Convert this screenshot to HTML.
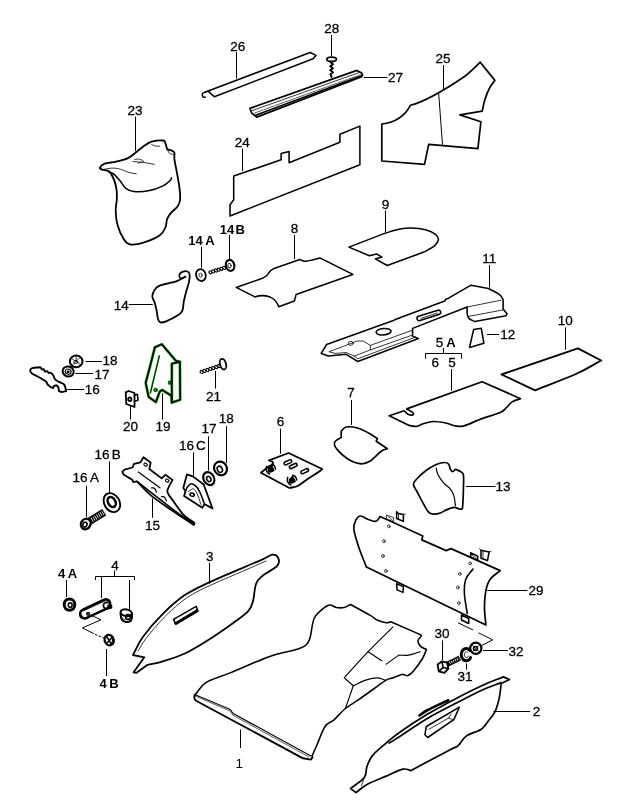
<!DOCTYPE html>
<html><head><meta charset="utf-8"><title>Parts diagram</title><style>
html,body{margin:0;padding:0;background:#fff;overflow:hidden}
svg{display:block;will-change:transform;opacity:0.999}
text{font-family:"Liberation Sans",sans-serif;font-size:13.5px;fill:#000;stroke:#000;stroke-width:0.3;text-anchor:middle}
.b{font-weight:bold;font-size:13px;stroke:none}
.p{fill:none;stroke:#000;stroke-width:1.55;stroke-linejoin:round;stroke-linecap:round}
.pw{fill:#fff;stroke:#000;stroke-width:1.55;stroke-linejoin:round;stroke-linecap:round}
.t{fill:none;stroke:#000;stroke-width:0.8;stroke-linejoin:round;stroke-linecap:round}
.tw{fill:#fff;stroke:#000;stroke-width:0.9;stroke-linejoin:round;stroke-linecap:round}
.k{fill:none;stroke:#000;stroke-width:1.8;stroke-linejoin:round;stroke-linecap:round}
.l{fill:none;stroke:#000;stroke-width:1}
.g{fill:none;stroke:#18b018;stroke-width:2.8;stroke-linejoin:round;stroke-linecap:round}
.f{fill:#000;stroke:none}
</style></head><body>
<svg width="617" height="802" viewBox="0 0 617 802">
<text x="135.0" y="114.5">23</text>
<path class="l" d="M135.5,116.5 L135.5,151.0"/>
<path class="k" d="M99.9,167.6C100.3,166.6 102.0,164.7 104.7,163.7C107.4,162.7 112.3,162.5 116.1,161.6C119.9,160.7 124.2,159.9 127.4,158.4C130.6,156.9 132.8,154.7 135.5,152.7C138.2,150.7 140.9,148.0 143.6,146.2C146.3,144.4 148.4,142.6 151.7,141.7C154.9,140.8 160.8,140.2 163.1,140.5C165.4,140.8 164.8,142.0 165.5,143.5C166.2,145.0 166.6,147.4 167.1,149.4C168.5,149.7 170.0,149.8 171.2,150.3C172.4,150.9 173.9,151.2 174.4,152.7C174.9,154.2 174.0,156.0 174.4,159.2C174.8,162.4 176.0,167.5 176.8,172.1C177.6,176.7 178.8,182.1 179.3,186.7C179.9,191.3 180.4,196.4 180.1,199.7C179.8,202.9 179.2,204.0 177.7,206.2C176.2,208.4 173.0,210.5 171.2,212.7C169.4,214.8 168.0,216.7 167.1,219.1C166.2,221.5 166.7,224.5 165.5,227.2C164.3,229.9 163.5,232.7 159.8,235.3C156.2,237.9 148.6,241.1 143.6,242.6C138.6,244.1 133.2,245.0 129.8,244.3C126.4,243.6 125.4,241.7 123.4,238.6C121.4,235.5 119.0,230.2 117.7,225.6C116.4,221.0 115.8,215.6 115.7,211.0C115.6,206.4 116.8,202.2 116.9,198.1C117.0,194.0 116.8,190.2 116.1,186.7C115.4,183.2 114.0,179.6 112.8,177.0C111.6,174.4 110.5,172.5 108.8,171.3C107.0,170.1 103.8,170.3 102.3,169.7C100.8,169.1 99.5,168.6 99.9,167.6Z"/>
<path class="p" d="M108.8,171.8C110.7,172.7 112.4,172.9 114.4,174.6C116.4,176.3 119.0,179.6 120.9,181.9C122.8,184.2 123.6,186.7 125.8,188.3C128.0,189.9 130.1,191.2 133.9,191.6C137.7,192.0 143.6,191.8 148.5,190.8C153.4,189.9 159.4,187.7 163.1,185.9C166.8,184.1 169.0,181.5 170.4,180.2C171.8,178.8 171.1,178.6 171.5,177.8"/>
<path class="t" d="M102.3,169.7C105.3,169.2 108.4,168.2 111.2,168.1C114.0,168.0 116.3,168.2 119.3,168.9C122.3,169.6 126.2,171.7 129.0,172.5C131.8,173.3 133.9,173.4 136.3,173.8"/>
<path class="t" d="M133.1,161.6C136.6,161.9 140.1,161.9 143.6,162.4C147.1,162.9 150.7,163.7 154.2,164.4"/>
<path class="t" d="M134.7,159.5C136.3,159.4 138.1,158.8 139.6,159.2C141.1,159.5 143.9,160.9 143.6,161.6C143.3,162.3 139.9,162.7 138.0,163.2"/>
<path class="t" d="M151.7,144.6C153.0,145.1 154.2,145.7 155.5,146.0C156.8,146.3 158.4,146.1 159.8,146.2"/>
<path class="t" d="M167.9,150.3C168.5,151.4 168.7,152.8 169.6,153.5C170.5,154.2 172.3,154.0 173.6,154.3"/>
<text x="237.7" y="50.5">26</text>
<path class="l" d="M236.5,52.0 L236.5,78.6"/>
<path class="p" d="M205.5,92.0L310.2,52.5L316.0,55.4L313.1,58.8L214.3,96.8L207.8,90.9"/>
<path class="p" d="M206.0,91.8C204.9,92.4 203.1,92.7 202.6,93.5C202.1,94.3 202.5,96.2 202.9,96.8C203.3,97.4 204.4,97.1 205.2,97.2"/>
<text x="395.6" y="81.9">27</text>
<path class="l" d="M363.7,77.5 L387.4,77.5"/>
<path class="k" d="M249.9,108.4 L356.9,70.4 L361.7,73 L362.7,75.3 L361.7,76.6 L256.7,117.1 L251.8,113.2 Z" style="stroke-width:1.7"/>
<path class="t" d="M252.2,110.6 L359,72.6"/>
<path class="t" d="M253.8,113.3 L361,74.6" style="stroke:#333;stroke-dasharray:10 1.2"/>
<path class="p" d="M255.6,115.2 L361.6,75.6" style="stroke-width:1.5"/>
<text x="331.7" y="32.5">28</text>
<path class="l" d="M331.5,35.0 L331.5,56.0"/>
<ellipse class="k" cx="331.6" cy="59.3" rx="4.8" ry="2.2" transform="rotate(0.0 331.6 59.3)"/>
<path class="k" d="M330.4,62 L333,64.3 L330.2,66.3 L333,68.3 L330.2,70.3 L333,72.3 L330.4,74.3 L331.6,77" style="stroke-width:1.9"/>
<text x="242.2" y="147.2">24</text>
<path class="l" d="M242.5,148.6 L242.5,171.0"/>
<path class="p" d="M233.7,176.0L281.1,159.8L281.1,153.6L289.1,151.6L289.1,162.8L339.9,142.3L339.9,134.3L359.9,126.1L359.9,164.8L230.0,216.0L230.0,204.7L233.7,199.7Z"/>
<text x="443.0" y="63.0">25</text>
<path class="l" d="M443.5,65.0 L443.5,90.0"/>
<path class="k" d="M381.8,124 Q402,121.5 410.4,105.3 C425,101.5 443,91.1 464.9,76.2 C470,72.5 476,66.5 480.2,62.2 L494.9,80.4 C488,88 484.5,98 482.2,111.1 L459.9,114.9 L480.9,121.8 L477.9,148.6 L428.7,144.3 L424.5,164.3 L381.8,161 Z" style="stroke-width:1.7"/>
<path class="l" d="M438.7,93.6 L442.5,144.8"/>
<text x="121.2" y="309.8">14</text>
<path class="l" d="M128.7,304.5 L152.8,304.5"/>
<path class="k" d="M152.3,296.2C152.3,294.0 153.5,291.5 154.7,289.7C155.9,287.9 157.2,286.7 159.6,285.6C162.0,284.5 166.3,284.0 169.3,283.2C172.3,282.4 174.7,281.9 177.4,280.8C180.1,279.7 182.8,278.1 185.5,276.7C183.9,277.2 181.7,278.6 180.7,278.3C179.7,278.0 179.1,276.2 179.4,275.1C179.7,274.0 181.0,272.5 182.3,271.9C183.7,271.3 186.3,271.1 187.5,271.5C188.7,271.9 189.3,272.6 189.6,274.3C189.9,276.0 189.6,278.8 189.1,281.6C188.6,284.4 187.2,288.1 186.3,291.3C185.4,294.5 184.6,297.8 183.9,301.0C183.2,304.2 183.4,308.4 182.3,310.8C181.2,313.2 180.1,313.9 177.4,315.6C174.7,317.4 168.9,320.2 166.1,321.3C163.3,322.4 161.8,322.8 160.4,322.4C159.1,322.0 158.6,320.8 158.0,318.9C157.4,317.0 157.2,313.5 156.7,310.8C156.1,308.1 155.4,305.1 154.7,302.7C154.0,300.3 152.3,298.4 152.3,296.2Z"/>
<text x="195.5" y="244.8" class="b">14</text>
<text x="210.0" y="244.8" class="b">A</text>
<path class="l" d="M201.5,246.5 L201.5,267.8"/>
<ellipse class="k" cx="200.9" cy="275.1" rx="4.8" ry="6.0" transform="rotate(-15.0 200.9 275.1)"/>
<ellipse class="t" cx="200.5" cy="275.1" rx="1.6" ry="2.0" transform="rotate(0.0 200.5 275.1)"/>
<text x="227.0" y="233.8" class="b">14</text>
<text x="240.3" y="233.8" class="b">B</text>
<path class="l" d="M229.5,235.0 L229.5,259.0"/>
<ellipse class="k" cx="230.1" cy="265.4" rx="4.2" ry="5.5" transform="rotate(-15.0 230.1 265.4)" style="stroke-width:2.2"/>
<ellipse class="t" cx="229.5" cy="265.6" rx="1.6" ry="2.4" transform="rotate(-15.0 229.5 265.6)"/>
<ellipse class="p" cx="224.1" cy="267.9" rx="1.7" ry="1.3" transform="rotate(222.5 224.1 267.9)" style="stroke-width:1.1"/>
<ellipse class="p" cx="221.4" cy="268.8" rx="1.7" ry="1.3" transform="rotate(222.5 221.4 268.8)" style="stroke-width:1.1"/>
<ellipse class="p" cx="218.6" cy="269.7" rx="1.7" ry="1.3" transform="rotate(222.5 218.6 269.7)" style="stroke-width:1.1"/>
<ellipse class="p" cx="215.9" cy="270.5" rx="1.7" ry="1.3" transform="rotate(222.5 215.9 270.5)" style="stroke-width:1.1"/>
<ellipse class="p" cx="213.1" cy="271.4" rx="1.7" ry="1.3" transform="rotate(222.5 213.1 271.4)" style="stroke-width:1.1"/>
<ellipse class="p" cx="210.4" cy="272.3" rx="1.7" ry="1.3" transform="rotate(222.5 210.4 272.3)" style="stroke-width:1.1"/>
<text x="294.4" y="232.6">8</text>
<path class="l" d="M294.5,235.0 L294.5,259.2"/>
<path class="p" d="M236.2,287.4 L259,279.5 Q267,277 269,272.5 Q270.5,270 274,268.5 L299.9,259.4 Q303,261.8 306.1,261.2 Q309,260.5 312.4,259.9 L319.9,257.9 L352.8,274.4 L296.1,294.4 L294.4,301.1 L278.7,306.8 Q276.2,299.5 269.9,296.9 Q262.4,294.3 254.9,296.9 Z"/>
<text x="385.6" y="208.6">9</text>
<path class="l" d="M385.5,210.5 L385.5,232.4"/>
<path class="p" d="M348.9,247.1L384.6,233.4C389.3,232.0 394.4,230.2 398.8,229.3C403.2,228.4 406.8,227.9 411.3,228.0C415.8,228.1 421.6,228.8 425.6,229.8C429.6,230.9 433.3,232.7 435.4,234.3C437.5,235.9 438.5,237.7 438.4,239.6C438.2,241.5 436.9,243.7 434.5,245.8C432.1,247.9 427.4,250.0 423.8,252.1L387.2,265.5L375.3,258.9L381.9,257.1L376.5,253.9L369.4,255.7L348.9,247.1Z"/>
<text x="489.3" y="263.1">11</text>
<path class="l" d="M489.5,265.0 L489.5,287.5"/>
<path class="p" d="M321.2,353.4L326.6,344.5L393.4,320.5L395.2,319.6L444.7,301.1L445.7,299.2L448.6,298.2L471.0,285.2L488.5,288.5C492.1,290.4 496.8,292.5 499.2,294.3C501.6,296.1 501.8,297.6 503.1,299.2L503.1,308.9L507.0,313.8L506.0,315.7L474.9,321.6C473.0,320.6 470.4,319.9 469.1,318.6C467.8,317.3 467.8,315.4 467.1,313.8L467.1,307.0L412.6,328.4L412.6,336.1L418.5,338.6L357.8,361.5L346.2,354.3L328.4,356.1L321.2,353.4Z"/>
<path class="t" d="M329.3,351.6L343.5,346.3L356.9,341.0L363.1,341.0L370.3,345.4L370.3,349.9L354.2,356.1L346.2,352.5L335.5,353.4Z"/>
<path class="t" d="M370.3,345.4L412.1,330.3"/>
<path class="t" d="M370.3,349.9L412.6,335.0"/>
<path class="t" d="M354.2,356.1L357.8,358.8L415.7,337.0"/>
<ellipse class="p" cx="383.6" cy="331.7" rx="7.5" ry="3.2" transform="rotate(-5.0 383.6 331.7)"/>
<ellipse class="t" cx="350.7" cy="343.3" rx="2.5" ry="2.0" transform="rotate(0.0 350.7 343.3)"/>
<path class="p" d="M418.5,316.3 L438,310.2 A2.2,2.2 0 0 1 439.5,314.3 L420,320.5 A2.2,2.2 0 0 1 418.5,316.3 Z"/>
<path class="t" d="M421,318.3 L437.5,313"/>
<path class="t" d="M467.1,307.0L501.2,300.2"/>
<path class="t" d="M468.0,316.5L503.1,309.9"/>
<text x="507.8" y="339.1">12</text>
<path class="l" d="M487.0,334.5 L499.2,334.5"/>
<path class="p" d="M473.6,329.6L481.3,328.3L483.9,343.3L469.5,347.5Z"/>
<text x="565.3" y="324.8">10</text>
<path class="l" d="M565.5,327.4 L565.5,349.7"/>
<path class="k" d="M501.5,374.5L577.9,348.4L601.2,360.5C593.1,364.8 588.0,368.5 577.0,373.5C566.0,378.5 549.0,384.7 535.0,390.3L501.5,374.5Z" style="stroke-width:1.9"/>
<text x="439.5" y="347.2">5</text>
<text x="451.0" y="347.2" class="b">A</text>
<path class="l" d="M443.5,348 V353.5 M425.5,358.7 V353.5 H461.5 V358.7"/>
<text x="435.3" y="366.9">6</text>
<text x="451.9" y="366.9">5</text>
<path class="l" d="M451.5,369.0 L451.5,390.7"/>
<path class="g" d="M161.8,344.2L154.9,347.2L149.6,368.1L145.7,382.7L148.6,396.8L155.9,402.1L159.8,391.4L162.2,390.0L171.5,395.8L171.8,402.6L180.2,399.7L179.9,361.8L175.9,360.8Z"/>
<path class="g" d="M171.8,402.6L171.8,363.7L179.9,361.8"/>
<path class="g" d="M159.3,355.9L150.4,392.9" style="stroke-width:1.8"/>
<ellipse class="g" cx="155.6" cy="390.0" rx="1.4" ry="1.4" transform="rotate(0.0 155.6 390.0)" style="stroke-width:1.9"/>
<ellipse class="g" cx="170.0" cy="382.7" rx="1.4" ry="1.4" transform="rotate(0.0 170.0 382.7)" style="stroke-width:1.9"/>
<path class="k" d="M161.8,344.2L154.9,347.2L149.6,368.1L145.7,382.7L148.6,396.8L155.9,402.1L159.8,391.4L162.2,390.0L171.5,395.8L171.8,402.6L180.2,399.7L179.9,361.8L175.9,360.8Z" style="stroke-width:1.6"/>
<path class="k" d="M171.8,402.6L171.8,363.7L179.9,361.8" style="stroke-width:1.6"/>
<path class="t" d="M159.3,355.9L150.4,392.9"/>
<ellipse class="t" cx="155.6" cy="390.0" rx="1.4" ry="1.4" transform="rotate(0.0 155.6 390.0)"/>
<ellipse class="t" cx="170.0" cy="382.7" rx="1.4" ry="1.4" transform="rotate(0.0 170.0 382.7)"/>
<text x="163.1" y="430.8">19</text>
<path class="l" d="M162.5,393.4 L162.5,419.6"/>
<text x="130.6" y="430.8">20</text>
<path class="l" d="M130.5,406.0 L130.5,419.6"/>
<path class="k" d="M125.7,392.4L128.6,391.0L134.5,393.0L134.5,407.0L126.3,404.0Z"/>
<ellipse class="k" cx="129.8" cy="399.2" rx="1.6" ry="1.8" transform="rotate(0.0 129.8 399.2)"/>
<path class="p" d="M134.5,395.3L137.4,394.3L138.0,400.2L134.5,401.5"/>
<text x="213.6" y="400.8">21</text>
<path class="l" d="M215.5,371.0 L215.5,388.5"/>
<ellipse class="k" cx="223.0" cy="364.2" rx="3.0" ry="5.4" transform="rotate(-15.0 223.0 364.2)"/>
<ellipse class="p" cx="219.1" cy="366.0" rx="1.7" ry="1.3" transform="rotate(221.2 219.1 366.0)" style="stroke-width:1.1"/>
<ellipse class="p" cx="216.2" cy="367.0" rx="1.7" ry="1.3" transform="rotate(221.2 216.2 367.0)" style="stroke-width:1.1"/>
<ellipse class="p" cx="213.2" cy="368.0" rx="1.7" ry="1.3" transform="rotate(221.2 213.2 368.0)" style="stroke-width:1.1"/>
<ellipse class="p" cx="210.3" cy="368.9" rx="1.7" ry="1.3" transform="rotate(221.2 210.3 368.9)" style="stroke-width:1.1"/>
<ellipse class="p" cx="207.4" cy="369.9" rx="1.7" ry="1.3" transform="rotate(221.2 207.4 369.9)" style="stroke-width:1.1"/>
<ellipse class="p" cx="204.5" cy="370.9" rx="1.7" ry="1.3" transform="rotate(221.2 204.5 370.9)" style="stroke-width:1.1"/>
<ellipse class="p" cx="201.6" cy="371.9" rx="1.7" ry="1.3" transform="rotate(221.2 201.6 371.9)" style="stroke-width:1.1"/>
<text x="110.0" y="364.6">18</text>
<path class="l" d="M85.6,361.5 L102.0,361.5"/>
<text x="102.0" y="378.8">17</text>
<path class="l" d="M75.3,373.5 L93.1,373.5"/>
<text x="92.2" y="394.1">16</text>
<path class="l" d="M67.2,389.5 L84.2,389.5"/>
<ellipse class="k" cx="76.2" cy="361.4" rx="6.3" ry="5.8" transform="rotate(0.0 76.2 361.4)" style="stroke-width:2"/>
<path class="t" d="M71.5,358.5 L80.5,364.5 M80,357.5 L72.5,365 M76.2,356 V361.5"/>
<ellipse class="t" cx="75.8" cy="362.0" rx="2.0" ry="1.6" transform="rotate(0.0 75.8 362.0)"/>
<ellipse class="pw" cx="68.2" cy="371.5" rx="5.6" ry="5.0" transform="rotate(20.0 68.2 371.5)" style="stroke-width:2"/>
<ellipse class="p" cx="68.2" cy="371.7" rx="3.0" ry="2.5" transform="rotate(20.0 68.2 371.7)" style="stroke-width:1.1"/>
<ellipse class="f" cx="68.2" cy="371.9" rx="1.5" ry="1.3" transform="rotate(0.0 68.2 371.9)"/>
<path class="k" d="M30.2,370.1C30.4,369.5 30.5,368.6 32.2,368.1C33.9,367.6 37.7,367.5 40.4,367.2L41.9,369.6L43.8,369.1L44.8,371.5L47.2,371.1L48.7,373.0C49.5,373.0 50.3,372.5 51.1,373.0C51.9,373.5 53.0,374.8 53.6,375.9C54.2,376.9 54.1,378.3 55.0,379.3C55.9,380.3 57.4,381.0 58.9,381.8C60.4,382.6 62.8,383.3 63.8,384.2C64.8,385.1 64.8,386.0 65.2,387.1C65.6,388.2 65.9,389.7 66.2,391.0C64.7,391.3 63.0,392.0 61.8,392.0C60.6,392.0 59.9,391.3 58.9,391.0C58.7,389.9 58.8,388.6 58.4,387.6C58.0,386.6 57.1,386.0 56.5,385.2C55.7,385.5 54.6,385.6 54.0,386.1C53.4,386.6 53.4,387.4 53.1,388.1C52.1,387.6 51.1,387.2 50.2,386.6C49.3,386.0 48.4,385.5 47.7,384.7C47.1,383.9 47.2,382.7 46.3,381.8C45.4,380.9 44.0,380.3 42.4,379.3C40.8,378.3 38.1,376.8 36.5,375.9C34.9,375.0 33.6,374.6 32.6,374.0C31.6,373.4 31.1,372.6 30.7,372.0C30.3,371.4 29.9,370.8 30.2,370.1Z" style="stroke-width:1.9"/>
<text x="102.0" y="458.8">16</text>
<text x="116.3" y="458.8">B</text>
<path class="l" d="M109.5,461.4 L109.5,493.5"/>
<text x="80.0" y="482.3">16</text>
<text x="94.5" y="482.3">A</text>
<path class="l" d="M86.5,485.7 L86.5,516.8"/>
<ellipse class="k" cx="111.9" cy="502.6" rx="7.6" ry="10.0" transform="rotate(-30.0 111.9 502.6)" style="stroke-width:1.9"/>
<ellipse class="k" cx="111.7" cy="502.0" rx="3.6" ry="5.4" transform="rotate(-30.0 111.7 502.0)" style="stroke-width:2.5"/>
<path class="t" d="M106.5,509 Q110,513.5 115.5,511.5"/>
<path class="p" d="M89.5,521.3 L104.2,512.2" style="stroke-width:7.6;stroke-linecap:butt"/>
<path class="p" d="M91.8,519.9 L103.6,512.6" style="stroke-width:4.6;stroke:#fff;stroke-linecap:butt;stroke-dasharray:0.75 1.35"/>
<ellipse class="pw" cx="85.7" cy="524.0" rx="4.7" ry="5.4" transform="rotate(30.0 85.7 524.0)" style="stroke-width:2.3"/>
<ellipse class="p" cx="84.9" cy="524.6" rx="2.0" ry="2.5" transform="rotate(30.0 84.9 524.6)"/>
<text x="152.5" y="530.1">15</text>
<path class="l" d="M152.5,498.4 L152.5,517.8"/>
<path class="k" d="M122.3,471.9L124.5,469.7L132.5,467.5L134.0,463.9L140.5,462.4L143.4,457.3L150.7,462.4L149.3,469.0L161.7,478.4L165.3,474.8L172.6,479.9C171.4,482.1 169.8,484.4 169.0,486.5C168.2,488.6 166.8,489.9 167.5,492.3C168.2,494.7 170.6,497.3 173.3,501.1C176.0,504.9 180.1,511.3 183.6,514.9C187.1,518.5 190.9,520.2 194.5,522.9L193.8,525.1C187.0,520.5 180.4,516.2 173.3,511.3C166.2,506.4 157.6,500.9 151.5,495.9C145.4,490.9 141.8,486.2 136.9,481.4L133.2,482.1L132.5,479.9L123.8,474.8L122.3,471.9Z"/>
<path class="p" d="M136.9,481.4C142.2,485.5 146.8,489.1 152.9,493.8C159.0,498.5 166.7,504.8 173.5,509.8C180.3,514.8 187.0,519.3 193.8,524.0"/>
<path class="p" d="M138.3,471.9L160.2,487.9" style="stroke-width:1.2"/>
<ellipse class="p" cx="145.6" cy="464.6" rx="1.9" ry="1.3" transform="rotate(30.0 145.6 464.6)" style="stroke-width:1.1"/>
<ellipse class="p" cx="167.2" cy="480.6" rx="1.9" ry="1.3" transform="rotate(30.0 167.2 480.6)" style="stroke-width:1.1"/>
<path class="p" d="M151.5,487.8C152.5,488.0 153.7,487.6 154.5,488.3C155.3,489.0 155.8,490.8 156.5,492.0" style="stroke-width:1.2"/>
<path class="p" d="M161.5,496.6C162.5,496.7 163.7,496.3 164.5,497.0C165.3,497.7 165.8,499.7 166.5,501.0" style="stroke-width:1.2"/>
<path class="f" d="M186,517 L194.5,522.9 L193.8,525.1 L185,519 Z"/>
<text x="186.5" y="449.8">16</text>
<text x="200.8" y="449.8">C</text>
<path class="l" d="M193.5,452.4 L193.5,475.7"/>
<text x="209.0" y="432.8">17</text>
<path class="l" d="M208.5,436.2 L208.5,470.6"/>
<text x="226.3" y="423.4">18</text>
<path class="l" d="M226.5,426.2 L226.5,463.3"/>
<ellipse class="k" cx="220.5" cy="468.4" rx="6.3" ry="7.0" transform="rotate(-30.0 220.5 468.4)" style="stroke-width:2.2"/>
<ellipse class="p" cx="219.8" cy="469.3" rx="2.4" ry="3.2" transform="rotate(-30.0 219.8 469.3)"/>
<ellipse class="k" cx="208.8" cy="478.6" rx="5.2" ry="6.8" transform="rotate(-30.0 208.8 478.6)" style="stroke-width:2.2"/>
<ellipse class="p" cx="208.8" cy="479.0" rx="2.0" ry="2.8" transform="rotate(-30.0 208.8 479.0)"/>
<path class="k" d="M187.0,474.3L192.8,476.4L203.7,484.5L212.5,508.5L204.5,504.1L202.3,507.8L184.1,496.1L185.5,491.0L183.3,488.1Z"/>
<path class="p" d="M185.5,491.0C186.2,489.5 186.7,487.8 187.7,486.6C188.7,485.4 189.9,483.7 191.3,483.7C192.8,483.7 194.9,485.1 196.4,486.6C197.9,488.1 198.8,489.8 200.1,492.5C201.4,495.2 202.7,499.5 204.0,503.0"/>
<path class="t" d="M188.5,491.5C190.2,490.6 192.1,488.4 193.5,488.8C194.9,489.2 195.9,491.3 197.2,493.9C198.4,496.5 199.7,501.0 201.0,504.5"/>
<ellipse class="p" cx="192.1" cy="494.7" rx="2.2" ry="1.5" transform="rotate(20.0 192.1 494.7)"/>
<text x="280.6" y="426.4">6</text>
<path class="l" d="M280.5,428.7 L280.5,453.7"/>
<path class="k" d="M260.9,472.7L269.0,466.1L273.3,464.7L272.6,461.7L269.0,460.3L288.6,453.0L322.2,469.0C321.0,470.0 320.8,470.4 318.5,472.0C316.2,473.6 311.7,476.2 308.3,478.5C304.9,480.8 301.2,484.2 298.1,485.8C295.0,487.4 292.3,487.3 289.4,488.0L260.9,472.7Z"/>
<rect class="p" x="283.8" y="460.8" width="8.2" height="3" rx="1.5" transform="rotate(-24 287.9 462.3)"/>
<rect class="p" x="289.1" y="464.5" width="8.2" height="3" rx="1.5" transform="rotate(-24 293.2 466.0)"/>
<rect class="p" x="300.6" y="469.7" width="8.2" height="3" rx="1.5" transform="rotate(-24 304.7 471.2)"/>
<path class="f" d="M267.6,468.6 L271.6,464.2 L274.8,470.6 Q271.5,473.8 268,472 Z"/>
<path class="f" d="M288.8,479.6 L292.8,475.2 L296,481.6 Q292.7,484.8 289.2,483 Z"/>
<path class="p" d="M266.5,466.5 Q265,471.5 269.5,474 M271.6,464.2 Q275,465 275.5,469 M287.7,477.5 Q286.2,482.5 290.7,485 M292.8,475.2 Q296.2,476 296.7,480"/>
<text x="351.1" y="396.9">7</text>
<path class="l" d="M351.5,400.0 L351.5,424.9"/>
<path class="k" d="M341.2,431.2C342.9,429.8 343.5,427.5 346.2,427.0C348.9,426.5 353.6,426.9 357.5,428.0C361.4,429.1 366.6,431.9 369.9,433.7C373.2,435.5 374.9,437.0 377.4,438.7L376.2,441.2L387.4,448.7C385.3,449.5 384.1,449.1 381.2,451.2C378.3,453.3 373.4,459.1 369.9,461.2C366.4,463.3 363.7,464.1 360.0,463.7C356.3,463.3 351.2,461.0 347.5,458.7C343.8,456.4 339.7,452.6 337.5,449.9C335.3,447.2 333.9,444.5 334.5,442.4C335.1,440.3 339.0,439.1 341.2,437.4L341.2,431.2Z" style="stroke-width:1.7"/>
<path class="k" d="M389.2,415.7L404.3,410.8C405.5,411.9 406.6,413.5 408.0,414.2C409.4,414.9 412.0,415.3 412.8,415.0C413.6,414.7 413.8,413.5 412.8,412.5C411.8,411.5 408.7,410.1 406.7,408.9L482.1,381.7L520.5,398.7C517.8,399.7 514.9,400.1 512.5,401.6C510.1,403.1 508.4,405.9 506.4,407.7C504.4,409.5 504.4,410.7 500.3,412.5C496.2,414.3 488.2,416.4 482.1,418.6C476.0,420.8 468.3,424.7 463.9,425.9C459.4,427.1 458.4,426.4 455.4,425.9C452.3,425.4 449.2,423.7 445.6,423.0C442.0,422.3 437.1,421.4 433.5,421.5C429.9,421.6 426.6,422.7 423.8,423.5C421.0,424.3 418.9,426.1 416.5,426.4C414.1,426.7 411.6,425.7 409.2,425.4L389.2,415.7Z" style="stroke-width:1.7"/>
<text x="503.1" y="490.9">13</text>
<path class="l" d="M465.8,486.5 L495.4,486.5"/>
<path class="k" d="M413.5,484.6C413.3,482.4 414.3,481.8 416.3,479.5C418.3,477.2 422.0,473.6 425.4,471.0C428.8,468.4 433.6,465.6 436.8,464.2C440.0,462.8 442.7,462.5 444.7,462.5C446.7,462.5 447.8,463.1 448.7,464.2C449.6,465.3 449.7,468.1 450.4,469.3C451.1,470.5 451.8,471.6 452.7,471.6C453.6,471.6 454.6,470.1 455.5,469.3C457.2,470.1 459.3,470.7 460.6,471.6C461.9,472.6 462.9,472.0 463.4,475.0C463.9,478.0 463.5,485.0 463.4,489.7C463.3,494.4 463.1,500.1 462.9,503.3C462.7,506.5 462.5,507.1 462.3,509.0C461.4,509.0 460.9,509.3 459.5,509.0C458.1,508.7 455.9,507.2 453.8,507.3C451.7,507.4 449.3,508.7 447.0,509.6C444.7,510.6 442.5,512.2 440.2,513.0C437.9,513.8 435.4,514.3 433.4,514.1C431.4,513.9 430.0,513.6 428.3,511.8C426.6,510.0 425.0,506.5 423.2,503.3C421.4,500.1 419.1,495.6 417.5,492.5C415.9,489.4 413.7,486.8 413.5,484.6Z" style="stroke-width:1.7"/>
<path class="p" d="M436.2,468.2C436.8,470.3 436.7,471.9 437.9,474.4C439.1,476.8 441.5,480.4 443.6,482.9C445.7,485.3 448.7,487.0 450.4,489.1C452.1,491.2 452.9,492.6 453.8,495.4C454.7,498.1 454.9,502.2 455.5,505.6" style="stroke-width:1.2"/>
<text x="536.1" y="595.1">29</text>
<path class="l" d="M487.3,590.5 L527.5,590.5"/>
<path class="k" d="M360.6,516.0C358.5,516.1 356.8,518.2 355.7,520.4C354.6,522.6 353.3,524.8 353.8,529.2C354.3,533.6 356.5,540.4 358.6,546.7C360.7,553.0 363.8,560.3 366.4,567.1L485.9,625.0C485.4,619.3 484.5,613.6 484.5,607.9C484.5,602.2 484.9,595.4 485.9,590.6C486.8,585.8 487.8,582.5 490.2,579.2C492.6,575.9 496.9,573.5 500.2,570.6L451.0,548.6L446.2,550.6L421.8,539.9L422.8,536.0L386.8,519.5L380.0,516.5C379.4,517.5 378.9,518.7 378.1,519.5C377.3,520.3 376.8,521.4 375.2,521.4C373.6,521.4 370.7,520.4 368.3,519.5C365.9,518.6 362.7,515.9 360.6,516.0Z" style="stroke-width:1.7"/>
<path class="k" d="M473.0,569.0C470.6,572.4 467.2,575.1 465.8,579.2C464.4,583.3 464.1,587.8 464.4,593.5C464.6,599.2 466.3,606.9 467.3,613.6" style="stroke-width:1.6"/>
<ellipse class="t" cx="388.8" cy="526.3" rx="1.3" ry="1.5" transform="rotate(0.0 388.8 526.3)"/>
<ellipse class="t" cx="383.9" cy="541.2" rx="1.3" ry="1.5" transform="rotate(0.0 383.9 541.2)"/>
<ellipse class="t" cx="382.9" cy="556.0" rx="1.3" ry="1.5" transform="rotate(0.0 382.9 556.0)"/>
<ellipse class="t" cx="385.9" cy="571.0" rx="1.3" ry="1.5" transform="rotate(0.0 385.9 571.0)"/>
<ellipse class="t" cx="459.8" cy="573.9" rx="1.3" ry="1.5" transform="rotate(0.0 459.8 573.9)"/>
<ellipse class="t" cx="457.8" cy="587.5" rx="1.3" ry="1.5" transform="rotate(0.0 457.8 587.5)"/>
<ellipse class="t" cx="458.8" cy="603.1" rx="1.3" ry="1.5" transform="rotate(0.0 458.8 603.1)"/>
<ellipse class="t" cx="470.1" cy="563.4" rx="1.3" ry="1.5" transform="rotate(0.0 470.1 563.4)"/>
<path class="t" d="M386.8,515.2L393.6,517.5L393.2,521.9L386.8,519.2Z"/>
<path class="t" d="M388.3,516.5L392.2,520.4"/>
<path class="p" d="M396.6,518.5L396.6,511.7L398.5,513.6L403.4,514.6L403.4,521.4L396.6,518.5"/>
<path class="t" d="M398.5,513.6L398.5,519.3"/>
<path class="t" d="M403.4,514.6L405.3,514.0"/>
<path class="p" d="M396.6,583.7L403.4,586.6L403.0,592.4L397.1,589.9Z"/>
<path class="p" d="M470.6,552.8L477.7,556.2L477.7,560.5L470.6,557.0Z"/>
<path class="t" d="M472.0,554.8L476.3,558.5"/>
<path class="p" d="M481.0,558.3L481.0,550.2L489.1,551.9L487.5,560.6L481.0,558.3"/>
<path class="t" d="M479.5,548.5L481.0,550.2"/>
<path class="t" d="M489.1,551.9L491.2,551.0"/>
<path class="t" d="M483.0,551.0L483.0,558.8"/>
<path class="p" d="M461.5,615.0L468.7,618.5L468.7,623.5L461.5,620.0Z"/>
<path class="l" d="M458,622.8 L473.1,630 M478.5,632.8 L492.7,639.9 L482,645.3"/>
<text x="61.5" y="577.5" class="b">4</text>
<text x="72.5" y="577.5" class="b">A</text>
<path class="l" d="M66.5,580.0 L66.5,597.0"/>
<text x="114.9" y="569.5">4</text>
<path class="l" d="M114.5,570.5 V576.5 M95.5,580 V576.5 H134.5 V580 M101.5,576.5 V598 M129.5,580 V609.3"/>
<text x="103.0" y="688.0" class="b">4</text>
<text x="114.0" y="688.0" class="b">B</text>
<path class="l" d="M106.5,649.0 L106.5,676.0"/>
<ellipse class="k" cx="69.5" cy="604.6" rx="5.3" ry="5.7" transform="rotate(0.0 69.5 604.6)" style="stroke-width:3"/>
<ellipse class="p" cx="70.2" cy="605.0" rx="1.9" ry="2.3" transform="rotate(0.0 70.2 605.0)"/>
<path class="k" d="M84.3,614.2 L105.4,604.4" style="stroke-width:11"/>
<path class="k" d="M84.8,613.4 L105.9,603.6" style="stroke-width:11"/>
<path class="k" d="M84.9,613.8 L105.8,604.1" style="stroke-width:6.6;stroke:#fff"/>
<path class="t" d="M83.5,610.8 L104.6,601.2"/>
<ellipse class="p" cx="88.1" cy="613.8" rx="1.3" ry="1.3" transform="rotate(0.0 88.1 613.8)"/>
<ellipse class="k" cx="107.0" cy="605.6" rx="3.6" ry="3.2" transform="rotate(0.0 107.0 605.6)"/>
<ellipse class="p" cx="109.8" cy="606.6" rx="1.8" ry="1.8" transform="rotate(0.0 109.8 606.6)"/>
<path class="pw" d="M120.6,613 Q120.5,619.5 123.5,621.2 Q127.5,623 131,620.6 Q132.6,618 132,613.5" style="stroke-width:2"/>
<ellipse class="pw" cx="126.2" cy="612.8" rx="5.7" ry="3.3" transform="rotate(12.0 126.2 612.8)" style="stroke-width:2"/>
<ellipse class="p" cx="128.0" cy="617.0" rx="2.3" ry="2.4" transform="rotate(0.0 128.0 617.0)"/>
<path class="t" d="M122,617.5 Q123.5,619.5 125,620"/>
<path class="l" d="M90.5,615 L101,619.8 L82.4,627.9 L93.8,633.6"/>
<path class="l" d="M95,634.3 L104,638" style="stroke-dasharray:2.5 1.5"/>
<ellipse class="k" cx="109.2" cy="640.1" rx="4.5" ry="5.3" transform="rotate(-20.0 109.2 640.1)" style="stroke-width:2.2"/>
<path class="p" d="M106.8,637 L111,643.6 M112,637.4 L107,643"/>
<path class="f" d="M112.5,637 Q114.5,640.5 111.5,644.5 L110,645 Q113,641 111.5,636.5 Z"/>
<text x="209.8" y="561.0">3</text>
<path class="l" d="M209.5,563.0 L209.5,583.5"/>
<path class="k" d="M133.0,655.0C136.2,649.1 137.8,643.9 142.7,637.2C147.5,630.5 155.1,621.6 162.1,614.6C169.1,607.6 176.9,600.5 184.8,595.1C192.8,589.7 200.1,586.7 209.8,582.1C219.5,577.5 234.4,571.4 243.2,567.6C252.0,563.8 257.7,561.6 262.6,559.4C267.5,557.2 269.8,554.9 272.4,554.6C275.0,554.3 277.4,555.9 278.2,557.8C279.0,559.7 279.8,562.9 277.2,565.9C274.6,568.9 266.1,572.7 262.6,575.7C259.1,578.7 257.7,579.5 256.1,583.8C254.5,588.1 254.2,597.0 252.9,601.6C251.6,606.2 251.2,607.8 248.0,611.3C244.8,614.8 240.2,617.8 233.5,622.7C226.8,627.6 215.6,635.4 207.5,640.5C199.4,645.6 192.4,650.0 184.8,653.5C177.2,657.0 168.3,659.7 162.1,661.6C155.9,663.5 152.4,663.7 147.6,664.8L136.2,672.9L133.6,672.3L144.3,657.3L133.0,655.0Z"/>
<path class="t" d="M138.0,651.0C140.7,646.8 141.6,644.2 146.0,638.5C150.4,632.8 157.8,623.8 164.5,617.0C171.2,610.2 178.8,603.3 186.5,598.0C194.2,592.7 201.4,589.5 211.0,585.0C220.6,580.5 234.8,574.7 244.0,570.7C253.2,566.7 258.7,564.2 266.0,561.0"/>
<path class="p" d="M173.5,619.4L196.2,606.4L197.8,611.3L175.8,624.3Z"/>
<path class="k" d="M175.6,623.2L197.4,610.4" style="stroke-width:2.4"/>
<rect x="231" y="752" width="18" height="24" fill="#fff"/>
<text x="239.3" y="767.7" style="stroke:none">1</text>
<path class="l" d="M240.5,729.5 L240.5,748.0"/>
<path class="p" d="M195.2,694.7C198.8,690.7 200.1,686.2 205.9,682.6C211.7,679.0 219.7,677.2 230.2,672.9C240.7,668.6 257.5,660.8 269.1,656.7C280.7,652.6 293.3,651.0 300.0,648.3C306.7,645.6 307.0,644.4 309.1,640.4C311.2,636.4 311.4,628.7 312.5,624.5C313.6,620.3 313.2,618.6 315.9,615.4C318.5,612.2 325.0,606.5 328.4,605.2C331.8,603.9 333.7,607.1 336.3,607.5C338.9,607.9 341.9,608.0 344.2,607.5C346.5,607.0 348.3,605.5 350.4,604.5C357.0,608.1 365.8,612.8 370.3,615.4C374.8,618.0 374.6,618.8 377.2,620.0C379.8,621.2 383.9,622.4 386.2,622.7C388.5,623.0 389.3,622.1 390.8,621.8L418.0,633.6C419.1,634.3 421.4,634.7 421.4,635.8C421.4,636.9 418.2,638.7 418.0,640.4C417.8,642.1 418.9,644.6 420.3,646.1C421.7,647.6 424.4,648.4 426.4,649.5C425.1,652.5 424.6,654.9 422.5,658.5C420.4,662.1 415.9,668.1 413.5,671.0C411.1,673.9 409.7,675.0 407.8,675.6C405.9,676.2 404.6,674.0 402.1,674.4C399.6,674.8 395.6,676.8 393.0,677.8C390.4,678.8 389.2,678.4 386.2,680.1C383.2,681.8 379.4,684.8 374.9,688.0C370.4,691.2 363.9,696.0 359.0,699.4C354.1,702.8 349.6,705.1 345.4,708.5C341.2,711.9 337.4,716.8 334.0,719.8C330.6,722.8 327.9,722.2 325.0,726.5C322.1,730.8 318.8,740.9 316.6,745.8C314.4,750.7 313.5,752.6 312.0,756.0"/>
<path class="p" d="M393.0,626.8C384.7,635.1 376.2,643.2 368.1,651.7C360.0,660.2 352.2,669.1 344.2,677.8L353.3,685.8C350.7,693.4 348.0,700.9 345.4,708.5" style="stroke-width:1.15"/>
<path class="p" d="M368.1,651.7L381.7,660.8" style="stroke-width:1.15"/>
<path class="p" d="M386.2,664.2C390.4,661.2 394.5,658.1 398.7,655.1C402.1,655.1 405.3,655.7 408.9,655.1C412.5,654.5 416.5,652.8 420.3,651.7" style="stroke-width:1.15"/>
<path class="p" d="M353.3,685.8C357.5,683.9 361.8,681.4 365.8,680.1C369.8,678.8 374.0,677.8 377.2,677.8C380.4,677.8 382.5,679.3 385.1,680.1" style="stroke-width:1.15"/>
<path class="p" d="M195.2,694.7 L229.2,709 Q231.5,710.5 232,712 Q232.8,713.8 235,714.5 L310.9,756" style="stroke-width:1.2"/>
<path class="t" d="M196,696.3 L229.4,710.8 Q231,711.8 231.5,713.3 Q232.4,715.3 234.8,716.2 L309,757" style="stroke:#333"/>
<path class="k" d="M195,694.5 Q193,698.5 196.5,701 L303,758.3 L311,759.6 L312.6,757" style="stroke-width:1.9"/>
<text x="536.5" y="716.2">2</text>
<path class="l" d="M493.4,711.5 L530.2,711.5"/>
<path class="k" d="M350.5,788.5C355.1,784.8 361.6,781.2 364.3,777.5C367.1,773.8 365.6,770.1 367.0,766.4C368.4,762.7 369.4,759.3 372.6,755.4C375.8,751.5 381.7,746.9 386.3,743.0C390.9,739.1 393.2,736.8 400.1,732.0C407.0,727.2 418.5,719.6 427.7,714.1C436.9,708.6 446.0,703.7 455.2,698.9C464.4,694.1 474.8,688.9 482.8,685.2C490.8,681.5 496.5,679.7 503.4,676.9L509.5,679.6L501.2,683.5C500.6,688.2 500.3,693.0 499.3,697.6C498.3,702.2 497.0,707.4 495.2,711.3C493.4,715.2 490.6,718.0 488.3,721.0C486.0,724.0 485.1,726.7 481.4,729.2C477.7,731.7 470.1,733.3 466.2,736.1C462.3,738.9 460.8,743.5 458.0,745.8C455.2,748.1 457.5,745.8 449.7,749.9C441.9,754.0 424.0,763.7 411.1,770.6C408.4,770.1 407.0,768.3 402.9,769.2C398.8,770.1 392.3,773.6 386.3,776.1C380.3,778.6 372.1,781.6 367.0,784.4C361.9,787.1 359.7,789.9 356.0,792.6L350.5,788.5Z" style="stroke-width:1.7"/>
<path class="k" d="M389.1,743.0C391.4,741.6 389.6,743.0 396.0,738.9C402.4,734.8 417.8,724.1 427.7,718.2C437.6,712.3 446.0,708.3 455.2,703.6C464.4,698.9 475.2,693.3 482.8,689.8C490.4,686.3 494.9,685.0 501.0,682.6" style="stroke-width:1.7"/>
<path class="k" d="M419.4,715.5C422.2,713.7 422.9,712.5 427.7,710.0C432.5,707.5 441.4,703.5 448.3,700.3" style="stroke-width:2.6"/>
<path class="t" d="M364.3,777.5L361.5,785.7"/>
<path class="p" d="M426.3,726.5L459.4,707.2L453.8,719.6L427.7,737.5L424.9,734.8Z"/>
<path class="t" d="M429.0,729.2L448.3,718.2L453.8,719.6"/>
<path class="t" d="M448.3,718.2L451.1,714.1"/>
<text x="441.9" y="637.7">30</text>
<path class="l" d="M442.5,640.3 L442.5,660.0"/>
<text x="465.1" y="681.2">31</text>
<path class="l" d="M466.5,663.5 L466.5,669.7"/>
<text x="515.9" y="655.5">32</text>
<path class="l" d="M482.9,650.5 L507.9,650.5"/>
<path class="p" d="M446.5,664.6 L459.8,658.1" style="stroke-width:5.2;stroke-linecap:butt"/>
<path class="p" d="M449.5,663.1 L459.2,658.4" style="stroke-width:2.8;stroke:#fff;stroke-linecap:butt;stroke-dasharray:0.8 1.3"/>
<path class="pw" d="M437.6,664.6L441.8,661.4L447.0,662.6L448.4,668.6L444.4,672.8L438.8,671.4Z" style="stroke-width:1.9"/>
<path class="p" d="M441.8,661.4L443.2,667.4L438.8,671.4"/>
<path class="p" d="M443.2,667.4L448.4,668.6"/>
<path class="k" d="M469.8,650.3 A5,6.2 0 1 0 470.6,657.6" style="stroke-width:3"/>
<path class="t" d="M468.2,652.6 A2.2,3 0 1 0 468.6,656"/>
<ellipse class="k" cx="475.8" cy="648.3" rx="5.6" ry="5.6" transform="rotate(0.0 475.8 648.3)" style="stroke-width:2.2"/>
<ellipse class="p" cx="475.5" cy="648.5" rx="2.0" ry="2.0" transform="rotate(0.0 475.5 648.5)"/>
<path class="t" d="M472,645 L479.5,652 M479.5,645 L472,652"/>
</svg>
</body></html>
